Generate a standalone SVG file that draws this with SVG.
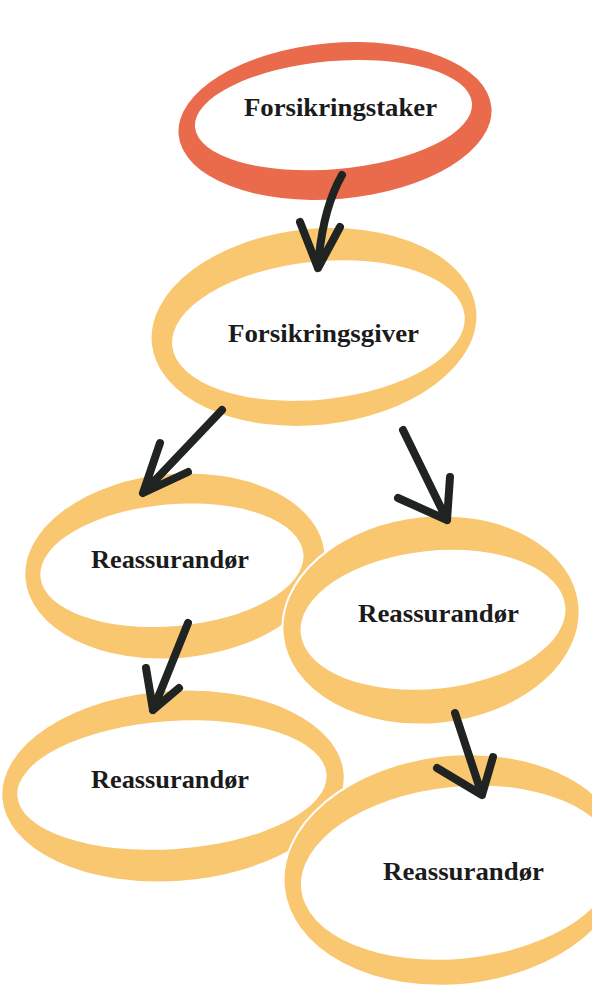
<svg xmlns="http://www.w3.org/2000/svg" width="592" height="995" viewBox="0 0 592 995">
<style>
.red{fill:#E96B4B}
.yel{fill:#F8C770;stroke:#fff;stroke-width:2}
.in{fill:#fff}
.lbl{font-family:"Liberation Serif","Times New Roman",serif;font-weight:bold;font-size:25px;fill:#1b1b1b}
.arr{fill:none;stroke:#1f2321;stroke-width:8;stroke-linecap:round;stroke-linejoin:round}
</style>
<rect width="592" height="995" fill="#fff"/>
<g id="forsikringstaker">
<g transform="rotate(-5 335 121)">
<ellipse class="red" cx="335" cy="121" rx="157" ry="78"/>
<ellipse class="in" cx="334" cy="115" rx="139" ry="54"/>
</g>
<text class="lbl" x="244" y="116" textLength="193" lengthAdjust="spacingAndGlyphs">Forsikringstaker</text>
</g>
<g id="forsikringsgiver">
<g transform="rotate(-6 314 327)">
<ellipse class="yel" cx="314" cy="327" rx="164" ry="99"/>
<ellipse class="in" cx="318" cy="331" rx="147" ry="69"/>
</g>
<text class="lbl" x="228" y="342" textLength="191" lengthAdjust="spacingAndGlyphs">Forsikringsgiver</text>
</g>
<g id="reassurandor1">
<g transform="rotate(-5 175 566)">
<ellipse class="yel" cx="175" cy="566" rx="151" ry="93"/>
<ellipse class="in" cx="172" cy="565" rx="132" ry="61"/>
</g>
<text class="lbl" x="91" y="568" textLength="158" lengthAdjust="spacingAndGlyphs">Reassurandør</text>
</g>
<g id="reassurandor2">
<g transform="rotate(-6 431 620)">
<ellipse class="yel" cx="431" cy="620" rx="149" ry="104"/>
<ellipse class="in" cx="433" cy="620" rx="133" ry="69"/>
</g>
<text class="lbl" x="358" y="622" textLength="161" lengthAdjust="spacingAndGlyphs">Reassurandør</text>
</g>
<g id="reassurandor3">
<g transform="rotate(-4 173 786)">
<ellipse class="yel" cx="173" cy="786" rx="172" ry="96"/>
<ellipse class="in" cx="172" cy="785" rx="155" ry="64"/>
</g>
<text class="lbl" x="91" y="788" textLength="158" lengthAdjust="spacingAndGlyphs">Reassurandør</text>
</g>
<g id="reassurandor4">
<g transform="rotate(-6 455 870)">
<ellipse class="yel" cx="455" cy="870" rx="172" ry="115"/>
<ellipse class="in" cx="458" cy="873" rx="158" ry="86"/>
</g>
<text class="lbl" x="383" y="880" textLength="161" lengthAdjust="spacingAndGlyphs">Reassurandør</text>
</g>
<g id="connectors">
<path class="arr" d="M342,175 Q322,210 318,268 M300,222 L318,268 L340,227"/>
<path class="arr" d="M222,410 L143,493 M160,443 L143,493 L188,472"/>
<path class="arr" d="M403,430 L447,520 M398,498 L447,520 L450,477"/>
<path class="arr" d="M188,623 L153,710 M146,668 L153,710 L179,688"/>
<path class="arr" d="M455,713 L482,795 M437,768 L482,795 L493,757"/>
</g>
</svg>
